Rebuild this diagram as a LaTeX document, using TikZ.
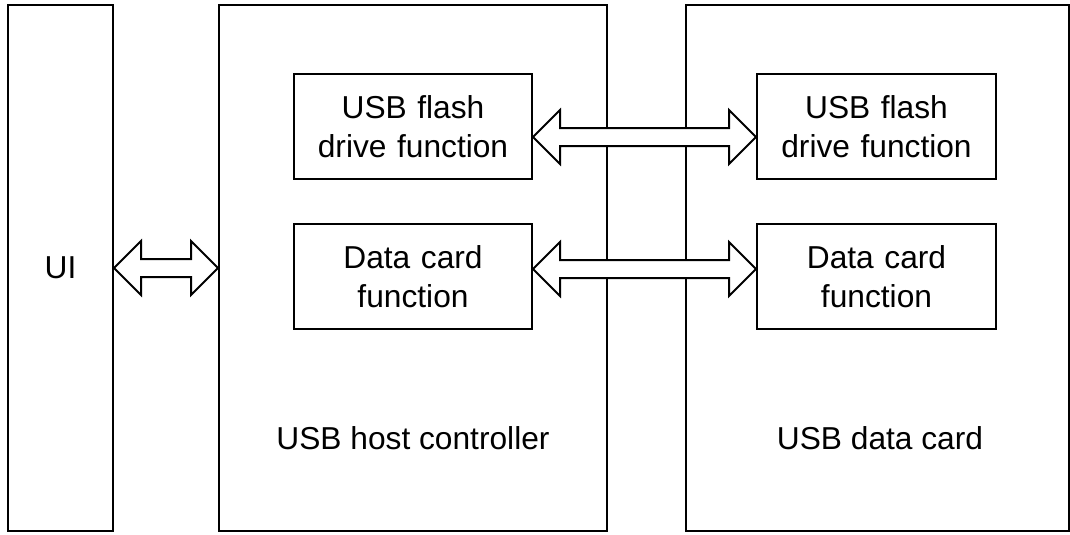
\documentclass[tikz,border=0pt]{standalone}
\usepackage{fontspec}
\setmainfont{Liberation Sans}
\usetikzlibrary{calc}

\tikzstyle{outerbox}=[rectangle,
                      draw,
                      line width=2pt,
                      minimum height=526pt,
                      inner sep=0pt]
\tikzstyle{funcbox}=[rectangle,
                     draw,
                     line width=2pt,
                     minimum height=105pt,
                     inner sep=0pt,
                     text width=230pt,
                     align=center]
\tikzstyle{dblarrow}=[draw,
                      fill=white,
                      line width=2pt,
                      line join=miter]

\begin{document}
\begin{tikzpicture}[x=1pt,y=1pt,font=\fontsize{31.7}{39.5}\selectfont]
    \useasboundingbox (0,0) rectangle (1070,-535);
    % outer blocks
    \node [outerbox, minimum width=105pt] (ui) at (60.5,-268) {UI};
    \node [outerbox, minimum width=388pt] (host) at (413,-268) {};
    \node [outerbox, minimum width=382.5pt] (card) at (877.25,-268) {};
    \node (hostlbl) at (413,-438) {USB host controller};
    \node (cardlbl) at (880,-438) {USB data card};
    % function blocks
    \node [funcbox, minimum width=238pt] (hflash) at (413,-126.5) {USB flash\\drive function};
    \node [funcbox, minimum width=238pt] (hdata) at (413,-276.5) {Data card\\function};
    \node [funcbox, minimum width=239pt] (cflash) at (876.5,-126.5) {USB flash\\drive function};
    \node [funcbox, minimum width=239pt] (cdata) at (876.5,-276.5) {Data card\\function};
    % double arrows
    \coordinate (a1) at (ui.east |- 0,-268);
    \coordinate (b1) at (host.west |- 0,-268);
    \draw [dblarrow] (a1) -- ++(27,27) -- ++(0,-18) -- ($(b1)+(-27,9)$) -- ++(0,18)
        -- (b1) -- ++(-27,-27) -- ++(0,18) -- ($(a1)+(27,-9)$) -- ++(0,-18) -- cycle;
    \coordinate (a2) at (hflash.east |- 0,-137);
    \coordinate (b2) at (cflash.west |- 0,-137);
    \draw [dblarrow] (a2) -- ++(27,27) -- ++(0,-18) -- ($(b2)+(-27,9)$) -- ++(0,18)
        -- (b2) -- ++(-27,-27) -- ++(0,18) -- ($(a2)+(27,-9)$) -- ++(0,-18) -- cycle;
    \coordinate (a3) at (hdata.east |- 0,-269);
    \coordinate (b3) at (cdata.west |- 0,-269);
    \draw [dblarrow] (a3) -- ++(27,27) -- ++(0,-18) -- ($(b3)+(-27,9)$) -- ++(0,18)
        -- (b3) -- ++(-27,-27) -- ++(0,18) -- ($(a3)+(27,-9)$) -- ++(0,-18) -- cycle;
\end{tikzpicture}
\end{document}
